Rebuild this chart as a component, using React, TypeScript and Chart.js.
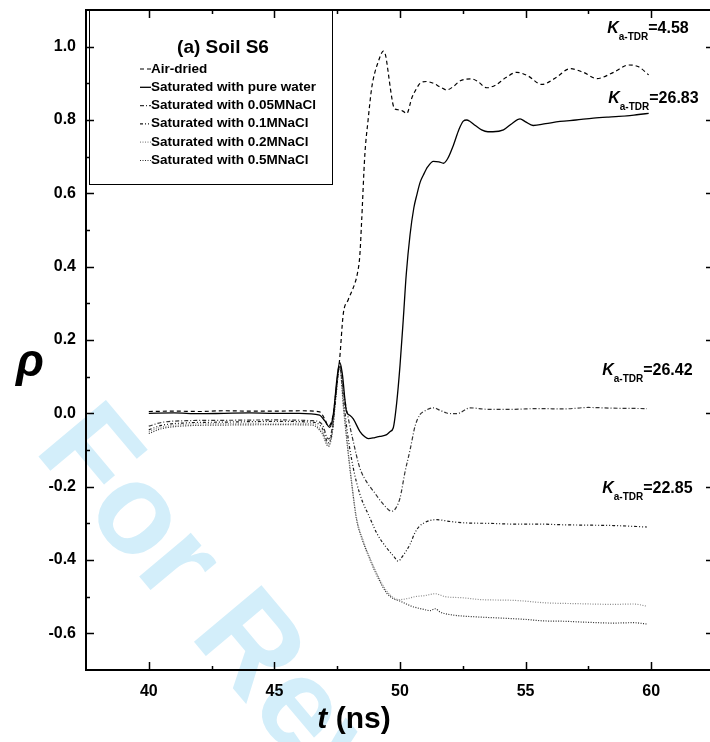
import React, { useEffect, useRef } from "react";
import { Chart, registerables } from "chart.js";

Chart.register(...registerables);

// ---------- data ----------
const airT = [40, 41, 42, 43, 44, 45, 46, 46.8, 47.0, 47.15, 47.35, 47.5, 47.6, 47.74, 47.94, 48.2, 48.3, 48.4, 48.47, 48.6, 48.73, 48.87, 49.0, 49.14, 49.25, 49.33, 49.43, 49.53, 49.63, 49.73, 49.8, 49.92, 50.1, 50.27, 50.47, 50.65, 50.8, 51.05, 51.33, 51.6, 51.86, 52.1, 52.4, 52.85, 53.1, 53.45, 53.8, 54.2, 54.65, 55.1, 55.64, 56.2, 56.77, 57.3, 57.84, 58.5, 59.1, 59.5, 59.9];
const airRho = [0.005, 0.006, 0.005, 0.007, 0.006, 0.006, 0.007, 0.004, -0.015, -0.035, 0.0, 0.09, 0.15, 0.27, 0.31, 0.354, 0.38, 0.43, 0.52, 0.705, 0.8, 0.886, 0.93, 0.96, 0.98, 0.988, 0.975, 0.93, 0.88, 0.84, 0.83, 0.828, 0.825, 0.818, 0.86, 0.885, 0.9, 0.905, 0.9, 0.89, 0.882, 0.89, 0.907, 0.912, 0.905, 0.888, 0.895, 0.915, 0.93, 0.92, 0.897, 0.915, 0.94, 0.93, 0.913, 0.93, 0.95, 0.945, 0.923];

const waterT = [40, 41, 42, 43, 44, 45, 46, 46.8, 47.0, 47.2, 47.35, 47.5, 47.6, 47.7, 47.87, 48.0, 48.14, 48.4, 48.6, 48.74, 49.0, 49.2, 49.47, 49.6, 49.73, 49.87, 50.0, 50.13, 50.25, 50.4, 50.55, 50.67, 50.8, 50.93, 51.1, 51.33, 51.55, 51.73, 51.9, 52.13, 52.35, 52.52, 52.65, 52.79, 53.0, 53.25, 53.5, 53.7, 54.12, 54.45, 54.78, 55.0, 55.3, 55.8, 56.37, 57.0, 57.7, 58.3, 59.03, 59.5, 59.9];
const waterRho = [0.0, 0.001, -0.001, 0.0, 0.001, 0.0, 0.0, -0.005, -0.02, -0.038, 0.0, 0.1, 0.139, 0.11, 0.005, -0.005, -0.015, -0.049, -0.064, -0.069, -0.066, -0.063, -0.058, -0.05, -0.04, 0.03, 0.13, 0.256, 0.38, 0.487, 0.56, 0.596, 0.63, 0.65, 0.672, 0.687, 0.686, 0.682, 0.695, 0.732, 0.775, 0.797, 0.8, 0.796, 0.785, 0.773, 0.768, 0.768, 0.773, 0.79, 0.803, 0.795, 0.785, 0.79, 0.796, 0.8, 0.805, 0.808, 0.811, 0.815, 0.818];

const nacl005T = [40, 40.5, 41.5, 43, 45, 46.5, 46.9, 47.15, 47.3, 47.45, 47.6, 47.75, 47.94, 48.15, 48.4, 48.7, 48.94, 49.3, 49.67, 49.8, 50.0, 50.2, 50.4, 50.6, 50.8, 50.95, 51.33, 51.6, 51.86, 52.26, 52.79, 53.5, 54.5, 55.5, 56.5, 57.5, 58.5, 59.83];
const nacl005Rho = [-0.035, -0.025, -0.02, -0.019, -0.018, -0.02, -0.03, -0.07, -0.04, 0.06, 0.135, 0.06, -0.013, -0.08, -0.149, -0.19, -0.212, -0.245, -0.267, -0.262, -0.231, -0.16, -0.1, -0.035, -0.003, 0.005, 0.015, 0.008, 0.001, -0.001, 0.015, 0.011, 0.011, 0.013, 0.012, 0.016, 0.014, 0.013];

const nacl01T = [40, 40.5, 41.5, 43, 45, 46.5, 46.9, 47.15, 47.3, 47.45, 47.6, 47.75, 47.9, 48.14, 48.4, 48.8, 49.1, 49.47, 49.75, 49.93, 50.1, 50.4, 50.6, 50.77, 50.93, 51.2, 51.46, 52.0, 52.66, 53.5, 54.5, 55.5, 56.5, 57.5, 58.5, 59.83];
const nacl01Rho = [-0.045, -0.033, -0.026, -0.024, -0.022, -0.024, -0.04, -0.08, -0.05, 0.05, 0.13, 0.04, -0.05, -0.149, -0.22, -0.285, -0.33, -0.367, -0.39, -0.403, -0.39, -0.357, -0.325, -0.308, -0.3, -0.292, -0.29, -0.295, -0.299, -0.3, -0.302, -0.302, -0.304, -0.305, -0.306, -0.31];

const nacl02T = [40, 40.5, 41.5, 43, 45, 46.5, 46.9, 47.15, 47.3, 47.45, 47.6, 47.75, 47.9, 48.1, 48.27, 48.5, 48.8, 49.1, 49.47, 49.75, 50.0, 50.3, 50.6, 51.0, 51.4, 51.8, 52.5, 53.2, 54.5, 55.84, 57.0, 58.5, 59.3, 59.83];
const nacl02Rho = [-0.05, -0.038, -0.03, -0.028, -0.027, -0.028, -0.05, -0.085, -0.05, 0.05, 0.13, 0.02, -0.08, -0.2, -0.285, -0.34, -0.394, -0.44, -0.485, -0.503, -0.508, -0.505, -0.5, -0.497, -0.492, -0.5, -0.503, -0.508, -0.51, -0.517, -0.519, -0.521, -0.52, -0.526];

const nacl05T = [40, 40.5, 41.5, 43, 45, 46.5, 46.9, 47.15, 47.3, 47.45, 47.6, 47.75, 47.9, 48.1, 48.27, 48.5, 48.8, 49.1, 49.47, 49.75, 50.0, 50.25, 50.5, 50.9, 51.2, 51.4, 51.6, 52.1, 53.0, 53.9, 55.0, 55.7, 56.5, 57.5, 58.5, 59.3, 59.87];
const nacl05Rho = [-0.055, -0.042, -0.034, -0.032, -0.031, -0.032, -0.055, -0.09, -0.055, 0.045, 0.128, 0.015, -0.085, -0.205, -0.29, -0.345, -0.398, -0.445, -0.49, -0.506, -0.512, -0.52, -0.527, -0.534, -0.538, -0.533, -0.542, -0.55, -0.555, -0.558, -0.562, -0.566, -0.567, -0.57, -0.572, -0.571, -0.575];

const seriesLabels = [
  "Air-dried",
  "Saturated with pure water",
  "Saturated with 0.05MNaCl",
  "Saturated with 0.1MNaCl",
  "Saturated with 0.2MNaCl",
  "Saturated with 0.5MNaCl",
];

const xTickValues = [40, 45, 50, 55, 60];
const xMinorTicks = [42.5, 47.5, 52.5, 57.5];
const yTickValues = [-0.6, -0.4, -0.2, 0.0, 0.2, 0.4, 0.6, 0.8, 1.0];
const yMinorTicks = [-0.5, -0.3, -0.1, 0.1, 0.3, 0.5, 0.7, 0.9];

const legendTitle = "(a) Soil S6";
const kaValues = ["4.58", "26.83", "26.42", "22.85"];
// anchor of each K label in data coordinates (t, rho)
const kaAnchorT = [58.25, 58.29, 58.05, 58.05];
const kaAnchorRho = [1.037, 0.846, 0.104, -0.217];

// ---------- styles ----------
const FONT = '"Liberation Sans", Arial, Helvetica, sans-serif';
const seriesColors = ["#000000", "#000000", "#333333", "#1a1a1a", "#8a8a8a", "#2a2a2a"];
const seriesDashes: number[][] = [[4, 3], [], [4, 2, 1, 2], [3, 2, 1, 2, 1, 2], [1, 1.5], [1, 1.5]];
const seriesWidths = [1.2, 1.3, 1.2, 1.2, 1.2, 1.2];

function makeDataset(i: number, t: number[], r: number[]) {
  return {
    label: seriesLabels[i],
    data: t.map((x, k) => ({ x, y: r[k] })),
    borderColor: seriesColors[i],
    borderDash: seriesDashes[i],
    borderWidth: seriesWidths[i],
    pointRadius: 0,
    fill: false,
    cubicInterpolationMode: "monotone" as const,
  };
}

const decorPlugin = {
  id: "decor",
  beforeDraw(chart: any) {
    const ctx = chart.ctx as CanvasRenderingContext2D;
    ctx.save();
    ctx.fillStyle = "#ffffff";
    ctx.fillRect(0, 0, chart.width, chart.height);
    // watermark
    ctx.translate(33, 450);
    ctx.rotate((50 * Math.PI) / 180);
    ctx.font = `bold 128px ${FONT}`;
    ctx.fillStyle = "#d3eefa";
    ctx.textBaseline = "alphabetic";
    ctx.fillText("For Review", 0, 0);
    ctx.restore();
  },
  afterDraw(chart: any) {
    const ctx = chart.ctx as CanvasRenderingContext2D;
    const a = chart.chartArea;
    const xs = chart.scales.x;
    const ys = chart.scales.y;
    ctx.save();
    ctx.strokeStyle = "#000";
    ctx.lineWidth = 2;
    ctx.beginPath();
    ctx.moveTo(a.left, a.top);
    ctx.lineTo(a.right, a.top);
    ctx.lineTo(a.right, a.bottom);
    ctx.stroke();

    ctx.lineWidth = 1.5;
    const vt = (v: number, len: number) => {
      const px = Math.round(xs.getPixelForValue(v)) + 0.5;
      ctx.beginPath();
      ctx.moveTo(px, a.bottom);
      ctx.lineTo(px, a.bottom - len);
      ctx.moveTo(px, a.top);
      ctx.lineTo(px, a.top + len);
      ctx.stroke();
    };
    const ht = (v: number, len: number) => {
      const py = Math.round(ys.getPixelForValue(v)) + 0.5;
      ctx.beginPath();
      ctx.moveTo(a.left, py);
      ctx.lineTo(a.left + len, py);
      ctx.moveTo(a.right, py);
      ctx.lineTo(a.right - len, py);
      ctx.stroke();
    };
    xTickValues.forEach((v) => vt(v, 8));
    xMinorTicks.forEach((v) => vt(v, 4));
    yTickValues.forEach((v) => ht(v, 8));
    yMinorTicks.forEach((v) => ht(v, 4));

    // legend box
    const lx = a.left + 3;
    const ly = a.top;
    ctx.lineWidth = 1;
    ctx.strokeRect(lx + 0.5, ly + 0.5, 243, 174);
    ctx.fillStyle = "#000";
    ctx.textBaseline = "alphabetic";
    ctx.textAlign = "center";
    ctx.font = `bold 19px ${FONT}`;
    ctx.fillText(legendTitle, lx + 134, ly + 43);
    ctx.textAlign = "left";
    ctx.font = `bold 13.5px ${FONT}`;
    seriesLabels.forEach((lab, i) => {
      const by = ly + 62.5 + i * 18.3;
      ctx.save();
      ctx.strokeStyle = seriesColors[i];
      ctx.lineWidth = seriesWidths[i];
      ctx.setLineDash(seriesDashes[i]);
      ctx.beginPath();
      ctx.moveTo(lx + 51, by - 3.5);
      ctx.lineTo(lx + 62, by - 3.5);
      ctx.stroke();
      ctx.restore();
      ctx.fillText(lab, lx + 62, by);
    });

    // K labels
    kaValues.forEach((val, i) => {
      let x = xs.getPixelForValue(kaAnchorT[i]);
      const y = ys.getPixelForValue(kaAnchorRho[i]);
      ctx.font = `italic bold 16px ${FONT}`;
      ctx.fillText("K", x, y);
      x += ctx.measureText("K").width;
      ctx.font = `bold 10px ${FONT}`;
      ctx.fillText("a-TDR", x, y + 7);
      x += ctx.measureText("a-TDR").width;
      ctx.font = `bold 16px ${FONT}`;
      ctx.fillText("=" + val, x, y);
    });

    // axis titles
    ctx.font = `italic bold 46px ${FONT}`;
    ctx.fillText("\u03C1", 16, 376);
    const cx = (a.left + a.right) / 2;
    ctx.font = `italic bold 30px ${FONT}`;
    const tW = ctx.measureText("t ").width;
    ctx.font = `bold 30px ${FONT}`;
    const nW = ctx.measureText("(ns)").width;
    const sx = cx - 46 - (tW + nW) / 2;
    ctx.font = `italic bold 30px ${FONT}`;
    ctx.fillText("t", sx, 728);
    ctx.font = `bold 30px ${FONT}`;
    ctx.fillText("(ns)", sx + tW, 728);
    ctx.restore();
  },
};

export default function App() {
  const ref = useRef<HTMLCanvasElement | null>(null);
  useEffect(() => {
    if (!ref.current) return;
    const tickFont = { family: FONT, size: 16, weight: "bold" as const };
    const chart = new Chart(ref.current, {
      type: "line",
      data: {
        datasets: [
          makeDataset(0, airT, airRho),
          makeDataset(1, waterT, waterRho),
          makeDataset(2, nacl005T, nacl005Rho),
          makeDataset(3, nacl01T, nacl01Rho),
          makeDataset(4, nacl02T, nacl02Rho),
          makeDataset(5, nacl05T, nacl05Rho),
        ],
      },
      options: {
        responsive: false,
        animation: false,
        devicePixelRatio: 1,
        layout: { padding: { left: 0, top: 10, right: 6, bottom: 0 } },
        plugins: { legend: { display: false }, tooltip: { enabled: false } },
        scales: {
          x: {
            type: "linear",
            min: 37.5,
            max: 62.5,
            grid: { display: false, drawTicks: false },
            border: { display: true, color: "#000", width: 2 },
            ticks: {
              font: tickFont,
              color: "#000",
              padding: 12,
              maxRotation: 0,
              callback: (v: any) => String(v),
            },
            afterBuildTicks: (s: any) => {
              s.ticks = xTickValues.map((v) => ({ value: v }));
            },
            afterFit: (s: any) => {
              s.height = 72;
              s.paddingLeft = 0;
              s.paddingRight = 0;
            },
          },
          y: {
            type: "linear",
            min: -0.7,
            max: 1.1,
            grid: { display: false, drawTicks: false },
            border: { display: true, color: "#000", width: 2 },
            ticks: {
              font: tickFont,
              color: "#000",
              padding: 10,
              callback: (v: any) => Number(v).toFixed(1),
            },
            afterBuildTicks: (s: any) => {
              s.ticks = yTickValues.map((v) => ({ value: v }));
            },
            afterFit: (s: any) => {
              s.width = 86;
              s.paddingTop = 0;
              s.paddingBottom = 0;
            },
          },
        },
      },
      plugins: [decorPlugin],
    });
    return () => chart.destroy();
  }, []);
  return (
    <div
      style={{
        position: "fixed",
        left: 0,
        top: 0,
        width: 710,
        height: 742,
        overflow: "hidden",
        background: "#fff",
      }}
    >
      <canvas ref={ref} width={720} height={742} style={{ display: "block" }} />
    </div>
  );
}
